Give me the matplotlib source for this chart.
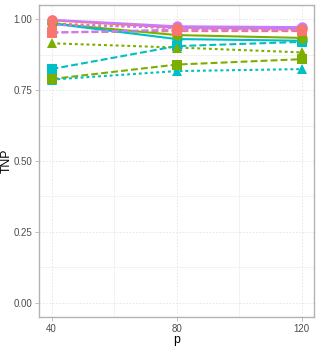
import matplotlib
matplotlib.use("Agg")
import matplotlib.pyplot as plt
from matplotlib.ticker import MultipleLocator

plt.rcParams["font.family"] = ["Liberation Sans", "DejaVu Sans"]

p = [40, 80, 120]
colors = {"A": "#F8766D", "B": "#7CAE00", "C": "#00BFC4", "D": "#C77CFF"}

# TNP values: method -> setting -> values at p
red_solid = [0.996, 0.970, 0.967]
red_dotted = [0.985, 0.968, 0.962]
red_dashed = [0.953, 0.958, 0.958]
green_solid = [0.985, 0.944, 0.934]
green_dotted = [0.915, 0.900, 0.883]
green_dashed = [0.789, 0.840, 0.859]
cyan_solid = [0.985, 0.930, 0.924]
cyan_dotted = [0.787, 0.817, 0.824]
cyan_dashed = [0.824, 0.905, 0.920]
purple_solid = [0.998, 0.975, 0.972]
purple_dotted = [0.980, 0.970, 0.966]
purple_dashed = [0.953, 0.963, 0.963]

series = [
    ("D", purple_solid, "solid"), ("D", purple_dotted, "dotted"), ("D", purple_dashed, "dashed"),
    ("C", cyan_solid, "solid"), ("C", cyan_dotted, "dotted"), ("C", cyan_dashed, "dashed"),
    ("B", green_solid, "solid"), ("B", green_dotted, "dotted"), ("B", green_dashed, "dashed"),
    ("A", red_solid, "solid"), ("A", red_dotted, "dotted"), ("A", red_dashed, "dashed"),
]
line_order = [9, 10, 11, 6, 7, 8, 3, 4, 5, 0, 1, 2]
point_order = [0, 1, 2, 3, 4, 5, 6, 7, 8, 9, 10, 11]

dash = {"dotted": (1.4, 1.4), "dashed": (3.3, 1.5)}
marker = {"solid": "o", "dotted": "^", "dashed": "s"}

fig = plt.figure(figsize=(3.19, 3.48), dpi=100)
ax = fig.add_axes([39/319, 31/348, 275/319, 312/348])

for i in line_order:
    c, vals, lt = series[i]
    kw = dict(color=colors[c], lw=1.5, solid_capstyle="butt", dash_capstyle="butt", zorder=3)
    if lt == "solid":
        ax.plot(p, vals, "-", **kw)
    else:
        ln, = ax.plot(p, vals, "--", **kw)
        ln.set_dashes(dash[lt])
for i in point_order:
    c, vals, lt = series[i]
    ax.plot(p, vals, linestyle="none", marker=marker[lt], color=colors[c],
            markersize=7.5 if lt != "dashed" else 6.5, zorder=4, markeredgewidth=0)

ax.set_xlim(36, 124)
ax.set_ylim(-0.05, 1.05)
ax.set_xticks([40, 80, 120])
ax.set_yticks([0, 0.25, 0.5, 0.75, 1.0])
ax.set_yticklabels(["0.00", "0.25", "0.50", "0.75", "1.00"])
ax.xaxis.set_minor_locator(MultipleLocator(20))
ax.yaxis.set_minor_locator(MultipleLocator(0.125))
ax.grid(which="major", color="#E3E3E3", lw=0.6, linestyle=(0, (2, 2)))
ax.grid(which="minor", color="#EDEDED", lw=0.5, linestyle="-")
ax.set_axisbelow(True)
for s in ax.spines.values():
    s.set_color("#B3B3B3")
    s.set_linewidth(1.0)
ax.tick_params(which="major", length=3, width=0.6, color="#B3B3B3",
               labelsize=7, labelcolor="#4D4D4D", pad=2)
ax.tick_params(which="minor", length=0)
fig.text(177/319, 1 - 340/348, "p", fontsize=8.8, ha="center", va="center")
fig.text(7/319, 1 - 161/348, "TNP", fontsize=8.8, ha="center", va="center", rotation=90)
fig.savefig("out.png", dpi=100)
